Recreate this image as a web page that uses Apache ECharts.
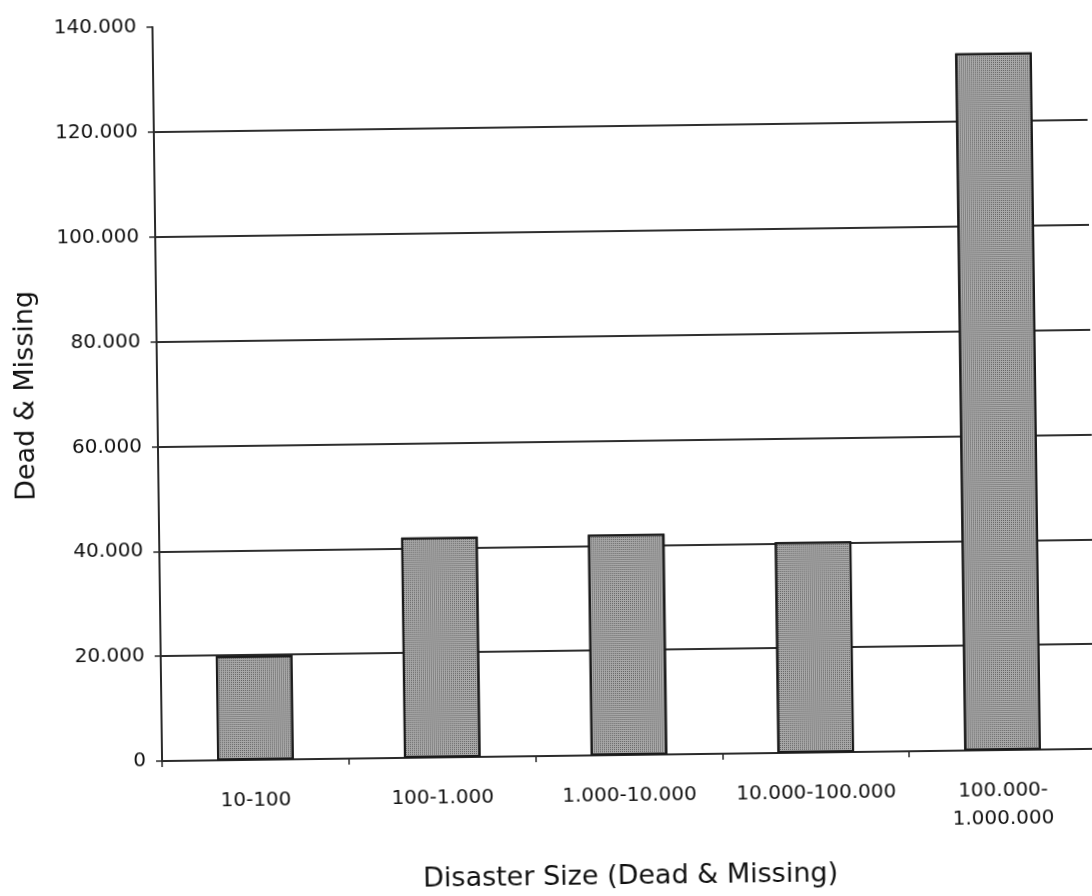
<!DOCTYPE html>
<html>
<head>
<meta charset="utf-8">
<script src="https://cdn.jsdelivr.net/npm/echarts@6/dist/echarts.min.js"></script>
<style>
  html, body { margin: 0; padding: 0; background: #ffffff; }
  #chart { width: 1092px; height: 896px; transform: rotate(-0.75deg); transform-origin: 546px 448px; }
</style>
</head>
<body>
<div id="chart"></div>
<script>
const categories = ['10-100', '100-1.000', '1.000-10.000', '10.000-100.000', '100.000-\n1.000.000'];
const deadMissing = [19900, 42000, 42100, 40200, 133000];
const yTicks = { min: 0, max: 140000, step: 20000 };
const xTitle = 'Disaster Size (Dead & Missing)';
const yTitle = 'Dead & Missing';

const fmt = v => String(v).replace(/\B(?=(\d{3})+(?!\d))/g, '.');
const FONT = 'DejaVu Sans';
const INK = '#111111';

const chart = echarts.init(document.getElementById('chart'), null, { renderer: 'canvas' });
chart.setOption({
  backgroundColor: '#ffffff',
  animation: false,
  grid: { left: 158, right: 0, top: 22, bottom: 128, containLabel: false },
  xAxis: {
    type: 'category',
    data: categories,
    boundaryGap: true,
    axisLine: { show: true, lineStyle: { color: '#2a2a2a', width: 2 } },
    axisTick: { show: true, length: 6, alignWithLabel: false, interval: 0, lineStyle: { color: '#2a2a2a', width: 1.5 } },
    axisLabel: { color: INK, fontFamily: FONT, fontSize: 20, lineHeight: 28, margin: 27, interval: 0 },
    name: xTitle,
    nameLocation: 'middle',
    nameGap: 108,
    nameTextStyle: { color: INK, fontFamily: FONT, fontSize: 27, lineHeight: 27 }
  },
  yAxis: {
    type: 'value',
    min: yTicks.min,
    max: yTicks.max,
    interval: yTicks.step,
    axisLine: { show: true, lineStyle: { color: '#2a2a2a', width: 2 } },
    axisTick: { show: true, length: 6, lineStyle: { color: '#2a2a2a', width: 1.5 } },
    axisLabel: { color: INK, fontFamily: FONT, fontSize: 20, margin: 16, formatter: v => fmt(v) },
    splitLine: { show: true, showMaxLine: false, lineStyle: { color: '#2e2e2e', width: 1.8 } },
    name: yTitle,
    nameLocation: 'middle',
    nameRotate: 90,
    nameGap: 118,
    nameTextStyle: { color: INK, fontFamily: FONT, fontSize: 27, lineHeight: 27 }
  },
  series: [{
    type: 'bar',
    data: deadMissing,
    barWidth: '41%',
    itemStyle: {
      color: '#a9a9a9',
      borderColor: '#1a1a1a',
      borderWidth: 2,
      decal: {
        symbol: 'rect',
        symbolSize: 1,
        dashArrayX: [1, 1],
        dashArrayY: [1, 1],
        color: 'rgba(50,50,50,0.6)'
      }
    }
  }]
});
</script>
</body>
</html>
